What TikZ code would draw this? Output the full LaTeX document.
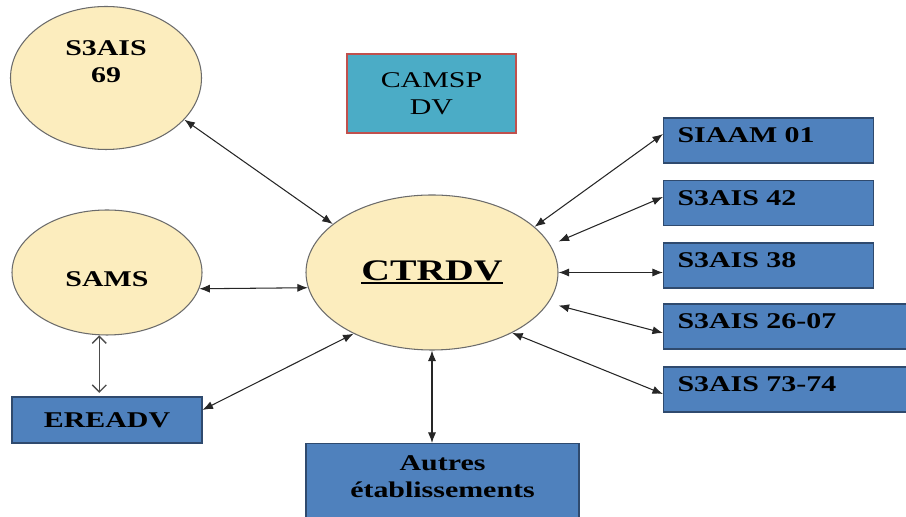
\documentclass[tikz,border=0pt]{standalone}
\usepackage{fontspec}
\setmainfont{Liberation Serif}[FakeStretch=1.33]
\usetikzlibrary{arrows.meta,shapes.geometric}
\definecolor{bubblefill}{HTML}{FCEDBE}
\definecolor{bubbleline}{HTML}{6B6B6B}
\definecolor{boxblue}{HTML}{4F81BD}
\definecolor{boxline}{HTML}{2F4A6E}
\definecolor{camspfill}{HTML}{4BACC6}
\definecolor{camspline}{HTML}{C0504D}
\newcommand{\thickul}[1]{\setbox0\hbox{#1}\rlap{\rule[-2.4pt]{\wd0}{1.5pt}}\box0}
\tikzset{
    lbl/.style={font=\fontsize{12.8}{15.4}\selectfont\bfseries, align=center},
    bubble/.style={ellipse, draw=bubbleline, fill=bubblefill, line width=0.6pt},
    bluebox/.style={rectangle, draw=boxline, fill=boxblue, line width=0.6pt, lbl},
    sidebox/.style={bluebox, anchor=west, inner xsep=0.28cm, minimum height=0.9cm, text depth=0.2cm, align=left},
    link/.style={{Latex[length=6pt,width=4.6pt]}-{Latex[length=6pt,width=4.6pt]}, line width=0.6pt, black!85},
    openlink/.style={{Straight Barb[length=4pt,width=8pt]}-{Straight Barb[length=4pt,width=8pt]}, line width=0.8pt, black!70}
}
\begin{document}
\begin{tikzpicture}
        \useasboundingbox (0,0) rectangle (18.12,10.34);
        % left column
        \node[bubble, minimum width=3.82cm, minimum height=2.86cm, label={[lbl, yshift=0.33cm]center:S3AIS\\69}] (s69) at (2.12,8.78) {};
        \node[bubble, minimum width=3.80cm, minimum height=2.50cm, label={[lbl, yshift=-0.13cm]center:SAMS}] (sams) at (2.14,4.89) {};
        \node[bluebox, minimum width=3.80cm, minimum height=0.92cm] (eread) at (2.14,1.94) {EREADV};
        % middle
        \node[bubble, minimum width=5.04cm, minimum height=3.10cm, font=\fontsize{17}{20}\selectfont\bfseries] (ctrdv) at (8.64,4.89) {\thickul{CTRDV}};
        \node[rectangle, draw=camspline, fill=camspfill, line width=0.8pt, minimum width=3.38cm, minimum height=1.58cm, font=\fontsize{12.8}{15.4}\selectfont, align=center] (camsp) at (8.63,8.47) {CAMSP\\DV};
        \node[bluebox, anchor=north, minimum width=5.46cm, minimum height=2cm, label={[lbl, anchor=north, yshift=-0.13cm]north:Autres\\établissements}] (autres) at (8.85,1.48) {};
        % right column
        \node[sidebox, text width=3.64cm] (siaam) at (13.26,7.53) {SIAAM 01};
        \node[sidebox, text width=3.64cm] (s42) at (13.26,6.28) {S3AIS 42};
        \node[sidebox, text width=3.64cm] (s38) at (13.26,5.03) {S3AIS 38};
        \node[sidebox, text width=5.2cm] (s2607) at (13.26,3.81) {S3AIS 26-07};
        \node[sidebox, text width=5.2cm] (s7374) at (13.26,2.55) {S3AIS 73-74};
        % links
        \draw[link] (s69.-28) -- (ctrdv.154);
        \draw[link] (sams.-10) -- (ctrdv.187);
        \draw[openlink, shorten >=2pt] (sams.263) -- (sams.263 |- eread.north);
        \draw[link] (eread.6) -- (ctrdv.218);
        \draw[link] (ctrdv.south) -- (ctrdv.south |- autres.north);
        \draw[link] (ctrdv.24) -- ([yshift=0.13cm]siaam.west);
        \draw[link] ([yshift=0.62cm]ctrdv.east) -- ([yshift=0.12cm]s42.west);
        \draw[link] (ctrdv.east) -- (ctrdv.east -| s38.west);
        \draw[link] ([yshift=-0.66cm]ctrdv.east) -- ([yshift=-0.13cm]s2607.west);
        \draw[link] (ctrdv.-37) -- ([yshift=-0.09cm]s7374.west);
\end{tikzpicture}
\end{document}
